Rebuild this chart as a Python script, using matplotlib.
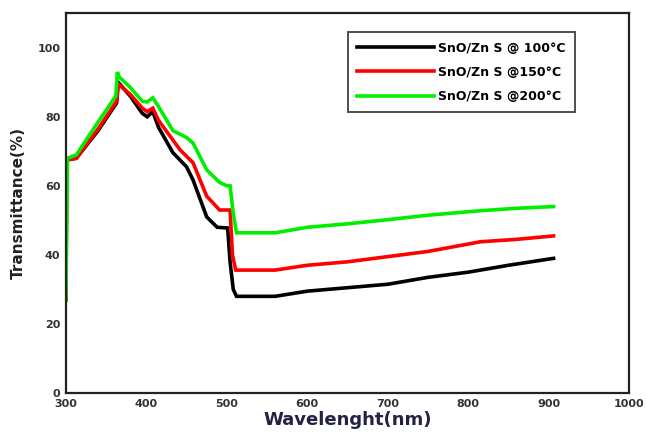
import matplotlib
matplotlib.use("Agg")
import matplotlib.pyplot as plt

# Wavelength (nm) and transmittance (%)
wl_100 = [300, 301, 313, 340, 363, 365, 380, 395, 401, 408, 415, 433, 450, 458, 475, 488, 501, 504, 508, 512, 560, 600, 650, 700, 750, 800, 850, 906]
t_100  = [27, 67.5, 68, 76, 84, 90, 86, 81, 80, 81.5, 77, 69.6, 65.5, 61.7, 51, 48, 47.8, 38, 30, 28, 28, 29.5, 30.5, 31.5, 33.5, 35, 37, 39]

wl_150 = [300, 301, 313, 340, 363, 365, 380, 395, 401, 408, 415, 442, 458, 475, 491, 504, 507, 511, 560, 600, 650, 700, 750, 815, 860, 906]
t_150  = [27, 67.5, 68, 76.5, 84.5, 89.5, 86.5, 82.5, 81.5, 82.5, 79, 70.4, 66.7, 57, 53, 53, 40, 35.6, 35.6, 37, 38, 39.5, 41, 43.8, 44.5, 45.5]

wl_200 = [300, 302, 313, 340, 362, 364, 366, 380, 395, 401, 408, 415, 433, 450, 458, 475, 491, 500, 504, 508, 512, 560, 600, 650, 700, 750, 815, 860, 906]
t_200  = [27, 68, 69, 78.5, 86, 93, 91.6, 88.5, 84.5, 84.3, 85.5, 83, 76, 74, 72.4, 64.6, 61, 60, 60, 52, 46.4, 46.4, 48, 49, 50.2, 51.5, 52.8, 53.5, 54]

labels = ["SnO/Zn S @ 100\u00b0C", "SnO/Zn S @150\u00b0C", "SnO/Zn S @200\u00b0C"]
colors = ["#000000", "#ff0000", "#00ee00"]

x_ticks = [300, 400, 500, 600, 700, 800, 900, 1000]
y_ticks = [0, 20, 40, 60, 80, 100]

fig = plt.figure(figsize=(6.46, 4.37), dpi=100)
ax = fig.add_axes([0.102, 0.1007, 0.872, 0.869])

for wl, t, lab, c in zip([wl_100, wl_150, wl_200], [t_100, t_150, t_200], labels, colors):
    ax.plot(wl, t, color=c, lw=2.6, label=lab, solid_joinstyle="miter")

ax.set_xlim(300, 1000)
ax.set_ylim(0, 110)
ax.set_xticks(x_ticks)
ax.set_yticks(y_ticks)
ax.tick_params(length=0, labelsize=8, pad=4)
for lbl in ax.get_xticklabels() + ax.get_yticklabels():
    lbl.set_fontweight("bold")
    lbl.set_color("#333333")

for s in ax.spines.values():
    s.set_linewidth(1.6)
    s.set_color("#222222")

ax.set_xlabel("Wavelenght(nm)", fontsize=13, fontweight="bold", color="#222244", labelpad=2)
ax.set_ylabel("Transmittance(%)", fontsize=11, fontweight="bold", color="#222222", labelpad=8)

leg = ax.legend(loc="upper left", bbox_to_anchor=(0.5, 0.95),
                frameon=True, fancybox=False, edgecolor="#222222",
                handlelength=6.2, handletextpad=0.3, borderpad=0.75, labelspacing=0.9,
                borderaxespad=0.0,
                prop={"weight": "bold", "size": 9})
leg.get_frame().set_linewidth(1.4)

fig.savefig("out.png", dpi=100)
